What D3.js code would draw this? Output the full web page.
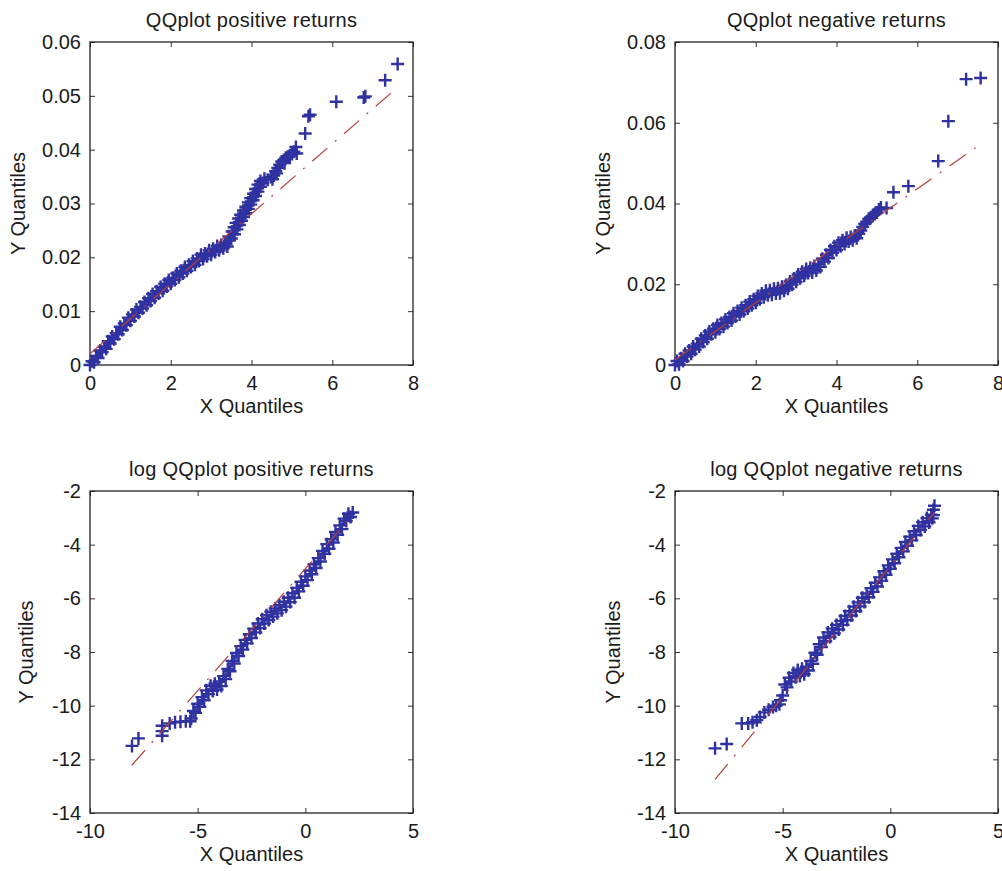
<!DOCTYPE html>
<html lang="en">
<head>
<meta charset="UTF-8">
<title>QQ plots of returns</title>
<script src="https://cdn.jsdelivr.net/npm/d3@7"></script>
<style>
  body { margin: 0; background: #fff; }
  svg { display: block; font-family: 'Liberation Sans', Arial, sans-serif; }
  .tick text { font-size: 20px; fill: #1a1a1a; }
  .tick line { stroke: #333; }
  .lbl { font-size: 20px; fill: #1a1a1a; }
</style>
</head>
<body>
<svg id="chart" width="1002" height="871"></svg>
<script>
// ---- data ----
const titles = ["QQplot positive returns", "QQplot negative returns",
                "log QQplot positive returns", "log QQplot negative returns"];

// QQplot positive returns
const posX = [0, 0.05, 0.1, 0.15, 0.2, 0.25, 0.3, 0.35, 0.4, 0.45, 0.5, 0.55, 0.6, 0.65, 0.7, 0.75, 0.8, 0.85, 0.9, 0.95,
  1.0, 1.05, 1.1, 1.15, 1.2, 1.25, 1.3, 1.35, 1.4, 1.45, 1.5, 1.55, 1.6, 1.65, 1.7, 1.75, 1.8, 1.85, 1.9, 1.95,
  2.0, 2.05, 2.1, 2.15, 2.2, 2.25, 2.3, 2.35, 2.4, 2.45, 2.5, 2.55, 2.6, 2.65, 2.7, 2.75, 2.8, 2.85, 2.9, 2.95,
  3.0, 3.05, 3.1, 3.15, 3.2, 3.25, 3.3, 3.35, 3.4, 3.45,
  3.50, 3.44, 3.58, 3.52, 3.64, 3.57, 3.70, 3.62, 3.75, 3.68, 3.80, 3.73, 3.85, 3.80, 3.92, 3.86, 3.98, 3.92, 4.04, 3.98,
  4.10, 4.05, 4.16, 4.10, 4.22, 4.16, 4.28, 4.22, 4.32, 4.40, 4.48, 4.55, 4.52, 4.60, 4.65, 4.62, 4.70, 4.75, 4.80, 4.85,
  4.82, 4.90, 4.95, 5.00, 5.05, 5.10, 5.12, 5.33, 5.41, 5.45, 6.10, 6.78, 6.82, 7.31, 7.62];
const posY = [0, 0.0007, 0.0005, 0.0017, 0.0013, 0.0027, 0.0024, 0.0034, 0.0030, 0.0044, 0.0040, 0.0053, 0.0048, 0.0059, 0.0057, 0.0071, 0.0065, 0.0077, 0.0074, 0.0088,
  0.0082, 0.0094, 0.0090, 0.0103, 0.0097, 0.0108, 0.0105, 0.0117, 0.0111, 0.0124, 0.0119, 0.0132, 0.0125, 0.0137, 0.0133, 0.0145, 0.0138, 0.0151, 0.0146, 0.0158,
  0.0151, 0.0162, 0.0158, 0.0170, 0.0163, 0.0175, 0.0170, 0.0182, 0.0175, 0.0186, 0.0182, 0.0193, 0.0186, 0.0198, 0.0193, 0.0205, 0.0197, 0.0207, 0.0202, 0.0213,
  0.0205, 0.0216, 0.0210, 0.0221, 0.0213, 0.0223, 0.0217, 0.0227, 0.0220, 0.0231,
  0.0235, 0.0239, 0.0243, 0.0248, 0.0252, 0.0256, 0.0260, 0.0264, 0.0268, 0.0272, 0.0275, 0.0279, 0.0282, 0.0287, 0.0290, 0.0294, 0.0298, 0.0302, 0.0306, 0.0310,
  0.0314, 0.0318, 0.0322, 0.0327, 0.0331, 0.0335, 0.0338, 0.0342, 0.0346, 0.0344, 0.0349, 0.0352, 0.0345, 0.0360, 0.0366, 0.0356, 0.0372, 0.0378, 0.0381, 0.0385,
  0.0375, 0.0387, 0.0389, 0.0392, 0.0396, 0.0405, 0.0393, 0.0430, 0.0462, 0.0465, 0.0489, 0.0497, 0.0499, 0.0529, 0.0559];
const posLineX = [0, 7.62];
const posLineY = [0.0021, 0.0516];

// QQplot negative returns
const negX = [0, 0.05, 0.1, 0.15, 0.2, 0.25, 0.3, 0.35, 0.4, 0.45, 0.5, 0.55, 0.6, 0.65, 0.7, 0.75, 0.8, 0.85, 0.9, 0.95,
  1.0, 1.05, 1.1, 1.15, 1.2, 1.25, 1.3, 1.35, 1.4, 1.45, 1.5, 1.55, 1.6, 1.65, 1.7, 1.75, 1.8, 1.85, 1.9, 1.95,
  2.0, 2.05, 2.1, 2.15, 2.2, 2.25, 2.3, 2.35, 2.4, 2.45, 2.5, 2.55, 2.6, 2.65, 2.7, 2.75, 2.8, 2.85, 2.9, 2.95,
  3.0, 3.05, 3.1, 3.15, 3.2, 3.25, 3.3, 3.35, 3.4, 3.45, 3.5, 3.55, 3.6, 3.65, 3.7, 3.75, 3.8, 3.85, 3.9, 3.95,
  4.0, 4.05, 4.1, 4.15, 4.2, 4.25, 4.3, 4.35, 4.4, 4.45, 4.5, 4.55, 4.6, 4.65, 4.7, 4.75, 4.8, 4.85, 4.9, 4.95,
  5.0, 5.05, 5.1, 5.24, 5.41, 5.78, 6.52, 6.77, 7.21, 7.57];
const negY = [0, 0.0010, 0.0002, 0.0017, 0.0010, 0.0028, 0.0021, 0.0036, 0.0028, 0.0046, 0.0038, 0.0053, 0.0046, 0.0065, 0.0057, 0.0073, 0.0065, 0.0083, 0.0076, 0.0090,
  0.0081, 0.0099, 0.0089, 0.0104, 0.0095, 0.0113, 0.0104, 0.0119, 0.0110, 0.0128, 0.0120, 0.0134, 0.0125, 0.0142, 0.0133, 0.0148, 0.0140, 0.0157, 0.0148, 0.0163,
  0.0154, 0.0171, 0.0163, 0.0177, 0.0168, 0.0184, 0.0173, 0.0185, 0.0174, 0.0189, 0.0177, 0.0190, 0.0178, 0.0194, 0.0184, 0.0198, 0.0189, 0.0207, 0.0199, 0.0214,
  0.0206, 0.0224, 0.0215, 0.0231, 0.0221, 0.0238, 0.0228, 0.0241, 0.0229, 0.0245, 0.0234, 0.0250, 0.0243, 0.0263, 0.0256, 0.0273, 0.0265, 0.0285, 0.0278, 0.0294,
  0.0285, 0.0303, 0.0294, 0.0309, 0.0300, 0.0315, 0.0306, 0.0317, 0.0309, 0.0320, 0.0314, 0.0325, 0.0333, 0.0342, 0.0350, 0.0355, 0.0362, 0.0366, 0.0370, 0.0374,
  0.0378, 0.0385, 0.0390, 0.0389, 0.0428, 0.0443, 0.0505, 0.0604, 0.0708, 0.0711];
const negLineX = [0, 7.57];
const negLineY = [0.0013, 0.0547];

// log QQplot positive returns
const logPosX = [2.2, 2.1, 2.0, 1.9, 1.8, 1.7, 1.6, 1.5, 1.4, 1.3, 1.2, 1.1, 1.0, 0.9, 0.8, 0.7, 0.6, 0.5, 0.4, 0.3,
  0.2, 0.1, 0.0, -0.1, -0.2, -0.3, -0.4, -0.5, -0.6, -0.7, -0.8, -0.9, -1.0, -1.1, -1.2, -1.3, -1.4, -1.5, -1.6, -1.7,
  -1.8, -1.9, -2.0, -2.1, -2.2, -2.3, -2.4, -2.5, -2.6, -2.7, -2.8, -2.9, -3.0, -3.1, -3.2, -3.3, -3.4, -3.5, -3.6, -3.7,
  -3.8, -3.9, -4.0, -4.1, -4.2, -4.3, -4.4, -4.5, -4.6, -4.7, -4.8, -4.9, -5.0, -5.1, -5.2, -5.3, -5.35, -5.55, -5.8, -6.05,
  -6.3, -6.65, -6.65, -6.65, -7.75, -8.05];
const logPosY = [-2.80, -2.97, -2.85, -3.12, -3.03, -3.42, -3.28, -3.63, -3.53, -3.92, -3.80, -4.15, -3.98, -4.34, -4.23, -4.63, -4.50, -4.87, -4.73, -5.10,
  -4.96, -5.32, -5.18, -5.53, -5.38, -5.74, -5.61, -5.98, -5.81, -6.14, -5.98, -6.31, -6.13, -6.44, -6.26, -6.56, -6.38, -6.68, -6.50, -6.81,
  -6.63, -6.94, -6.78, -7.11, -6.94, -7.27, -7.13, -7.48, -7.34, -7.68, -7.55, -7.91, -7.78, -8.15, -8.04, -8.43, -8.33, -8.72, -8.63, -9.01,
  -8.90, -9.27, -9.10, -9.40, -9.18, -9.45, -9.26, -9.57, -9.43, -9.80, -9.68, -10.04, -9.93, -10.27, -10.20, -10.48, -10.58, -10.58, -10.60, -10.62,
  -10.66, -10.75, -10.95, -11.12, -11.22, -11.50];
const logPosLineX = [-8.06, 2.15];
const logPosLineY = [-12.22, -2.95];

// log QQplot negative returns
const logNegX = [2.05, 2.0, 2.0, 1.95, 1.9, 1.8, 1.7, 1.6, 1.5, 1.4, 1.3, 1.2, 1.1, 1.0, 0.9, 0.8, 0.7, 0.6, 0.5, 0.4,
  0.3, 0.2, 0.1, 0.0, -0.1, -0.2, -0.3, -0.4, -0.5, -0.6, -0.7, -0.8, -0.9, -1.0, -1.1, -1.2, -1.3, -1.4, -1.5, -1.6,
  -1.7, -1.8, -1.9, -2.0, -2.1, -2.2, -2.3, -2.4, -2.5, -2.6, -2.7, -2.8, -2.9, -3.0, -3.1, -3.2, -3.3, -3.4, -3.5, -3.6,
  -3.7, -3.8, -3.9, -4.0, -4.1, -4.2, -4.3, -4.4, -4.5, -4.6, -4.7, -4.8, -4.9, -5.0, -5.1, -5.15, -5.3, -5.45, -5.65, -5.85,
  -6.05, -6.2, -6.4, -6.6, -6.9, -7.6, -8.14];
const logNegY = [-2.55, -2.70, -2.90, -3.02, -2.88, -3.17, -3.01, -3.32, -3.16, -3.45, -3.30, -3.64, -3.50, -3.84, -3.70, -4.04, -3.90, -4.25, -4.12, -4.47,
  -4.34, -4.69, -4.55, -4.90, -4.77, -5.12, -4.99, -5.35, -5.22, -5.56, -5.42, -5.76, -5.62, -5.96, -5.82, -6.14, -5.98, -6.30, -6.15, -6.47,
  -6.31, -6.64, -6.48, -6.81, -6.66, -6.99, -6.84, -7.16, -6.99, -7.30, -7.13, -7.44, -7.27, -7.59, -7.46, -7.82, -7.71, -8.10, -8.03, -8.44,
  -8.33, -8.69, -8.55, -8.83, -8.62, -8.89, -8.67, -8.94, -8.78, -9.10, -8.96, -9.32, -9.21, -9.62, -9.80, -9.95, -10.00, -10.05, -10.15, -10.25,
  -10.42, -10.54, -10.62, -10.66, -10.66, -11.43, -11.59];
const logNegLineX = [-8.14, 2.05];
const logNegLineY = [-12.75, -2.8];

// ticks
const qqXTicks = [0, 2, 4, 6, 8];
const qqXLabels = ["0", "2", "4", "6", "8"];
const posYTicks = [0, 0.01, 0.02, 0.03, 0.04, 0.05, 0.06];
const posYLabels = ["0", "0.01", "0.02", "0.03", "0.04", "0.05", "0.06"];
const negYTicks = [0, 0.02, 0.04, 0.06, 0.08];
const negYLabels = ["0", "0.02", "0.04", "0.06", "0.08"];
const logXTicks = [-10, -5, 0, 5];
const logXLabels = ["-10", "-5", "0", "5"];
const logYTicks = [-14, -12, -10, -8, -6, -4, -2];
const logYLabels = ["-14", "-12", "-10", "-8", "-6", "-4", "-2"];

// ---- layout ----
const panels = [
  { title: titles[0], xs: posX, ys: posY, lx: posLineX, ly: posLineY, xDom: [0, 8], yDom: [0, 0.06],
    xt: qqXTicks, xl: qqXLabels, yt: posYTicks, yl: posYLabels, box: [90, 413, 42, 365], ylabX: 25 },
  { title: titles[1], xs: negX, ys: negY, lx: negLineX, ly: negLineY, xDom: [0, 8], yDom: [0, 0.08],
    xt: qqXTicks, xl: qqXLabels, yt: negYTicks, yl: negYLabels, box: [675, 998, 42, 365], ylabX: 610 },
  { title: titles[2], xs: logPosX, ys: logPosY, lx: logPosLineX, ly: logPosLineY, xDom: [-10, 5], yDom: [-14, -2],
    xt: logXTicks, xl: logXLabels, yt: logYTicks, yl: logYLabels, box: [90, 413, 491, 813], ylabX: 33 },
  { title: titles[3], xs: logNegX, ys: logNegY, lx: logNegLineX, ly: logNegLineY, xDom: [-10, 5], yDom: [-14, -2],
    xt: logXTicks, xl: logXLabels, yt: logYTicks, yl: logYLabels, box: [675, 998, 491, 813], ylabX: 620 }
];

const markColor = '#2f32a0';
const lineColor = '#b8403a';
const tick = 5;

const svg = d3.select('#chart');
svg.append('rect').attr('width', 1002).attr('height', 871).attr('fill', '#fff');

panels.forEach(p => {
  const [l, r, t, b] = p.box;
  const x = d3.scaleLinear().domain(p.xDom).range([l, r]);
  const y = d3.scaleLinear().domain(p.yDom).range([b, t]);
  const g = svg.append('g');

  // axes with inward ticks on all four sides
  const fx = d => p.xl[p.xt.indexOf(d)];
  const fy = d => p.yl[p.yt.indexOf(d)];
  g.append('g').attr('transform', `translate(0,${b})`)
    .call(d3.axisBottom(x).tickValues(p.xt).tickFormat(fx).tickSizeInner(-tick).tickSizeOuter(0).tickPadding(11))
    .call(a => a.select('.domain').remove());
  g.append('g').attr('transform', `translate(${l},0)`)
    .call(d3.axisLeft(y).tickValues(p.yt).tickFormat(fy).tickSizeInner(-tick).tickSizeOuter(0).tickPadding(9))
    .call(a => a.select('.domain').remove());
  g.append('g').attr('transform', `translate(0,${t})`)
    .call(d3.axisTop(x).tickValues(p.xt).tickFormat('').tickSizeInner(-tick).tickSizeOuter(0))
    .call(a => a.select('.domain').remove());
  g.append('g').attr('transform', `translate(${r},0)`)
    .call(d3.axisRight(y).tickValues(p.yt).tickFormat('').tickSizeInner(-tick).tickSizeOuter(0))
    .call(a => a.select('.domain').remove());
  g.selectAll('.tick text').attr('font-family', null).attr('font-size', null);

  g.append('rect').attr('x', l).attr('y', t).attr('width', r - l).attr('height', b - t)
    .attr('fill', 'none').attr('stroke', '#222').attr('stroke-width', 1.3);

  // '+' markers
  const pts = p.xs.map((v, i) => [v, p.ys[i]]);
  g.append('g').selectAll('path').data(pts).join('path')
    .attr('transform', d => `translate(${x(d[0])},${y(d[1])})`)
    .attr('d', 'M-6.5,0H6.5M0,-6.5V6.5')
    .attr('stroke', markColor).attr('stroke-width', 2.4).attr('fill', 'none');

  // dash-dot reference line
  g.append('line')
    .attr('x1', x(p.lx[0])).attr('y1', y(p.ly[0]))
    .attr('x2', x(p.lx[1])).attr('y2', y(p.ly[1]))
    .attr('stroke', lineColor).attr('stroke-width', 1.2)
    .attr('stroke-dasharray', '20,10,2,10');

  // labels
  g.append('text').attr('class', 'lbl').attr('x', (l + r) / 2).attr('y', t - 15)
    .attr('text-anchor', 'middle').style('letter-spacing', '0.3px').text(p.title);
  g.append('text').attr('class', 'lbl').attr('x', (l + r) / 2).attr('y', b + 48)
    .attr('text-anchor', 'middle').text('X Quantiles');
  g.append('text').attr('class', 'lbl')
    .attr('transform', `translate(${p.ylabX},${(t + b) / 2}) rotate(-90)`)
    .attr('text-anchor', 'middle').text('Y Quantiles');
});
</script>
</body>
</html>
